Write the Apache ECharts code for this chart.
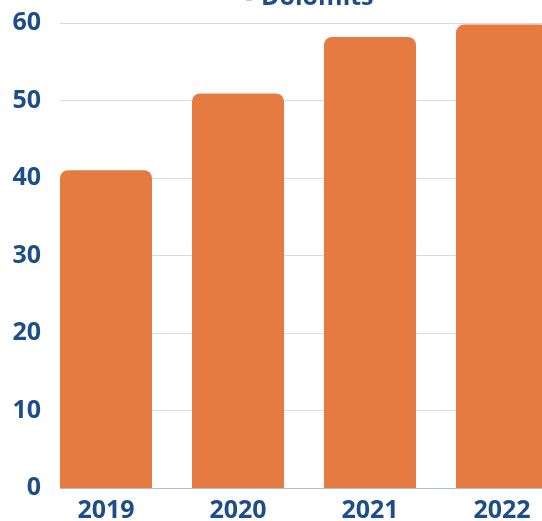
<!DOCTYPE html>
<html>
<head>
<meta charset="utf-8">
<style>
  html, body { margin: 0; padding: 0; background: #fff; overflow: hidden; }
  /* chart is wider than the window: last bar is cut by the right edge */
  #chart { width: 568px; height: 521px; }
</style>
<script src="https://cdn.jsdelivr.net/npm/echarts@6/dist/echarts.min.js"></script>
</head>
<body>
<div id="chart"></div>
<script>
// 数据
const years = ['2019', '2020', '2021', '2022']
const dolomits = [41.0, 50.9, 58.2, 59.8]
const yTicks = [0, 10, 20, 30, 40, 50, 60]

const labelColor = '#1d4e89'
const font = '"Open Sans", sans-serif'

const chart = echarts.init(document.getElementById('chart'))
chart.setOption({
  animation: false,
  legend: {
    data: ['Dolomits'],
    left: 241,
    top: -20,
    icon: 'rect',
    itemWidth: 6,
    itemHeight: 6,
    textStyle: { color: labelColor, fontFamily: font, fontWeight: 'bold', fontSize: 25, padding: [0, 0, 0, 4] }
  },
  // grid 0: bars, grid 1: y axis + gridlines
  grid: [
    { left: 40, right: 0, top: 23, bottom: 33, outerBoundsMode: 'none' },
    { left: 60, right: 26, top: 23, bottom: 33, outerBoundsMode: 'none' }
  ],
  xAxis: [
    {
      gridIndex: 0,
      type: 'category',
      data: years,
      axisLine: { show: false },
      axisTick: { show: false },
      axisLabel: { color: labelColor, fontFamily: font, fontWeight: 'bold', fontSize: 25, margin: 10 }
    },
    {
      gridIndex: 1,
      type: 'category',
      data: years,
      axisLine: { show: true, lineStyle: { color: '#aebed6', width: 1 } },
      axisTick: { show: false },
      axisLabel: { show: false }
    }
  ],
  yAxis: [
    { gridIndex: 0, type: 'value', min: 0, max: 60, interval: 10, show: false },
    {
      gridIndex: 1,
      type: 'value',
      min: yTicks[0],
      max: yTicks[yTicks.length - 1],
      interval: 10,
      axisLine: { show: false },
      axisTick: { show: false },
      axisLabel: { color: labelColor, fontFamily: font, fontWeight: 'bold', fontSize: 25, margin: 19 },
      splitLine: { lineStyle: { color: '#d3dde8', width: 1 } }
    }
  ],
  series: [
    {
      name: 'Dolomits',
      type: 'bar',
      xAxisIndex: 0,
      yAxisIndex: 0,
      data: dolomits,
      barWidth: 92,
      itemStyle: { color: '#e57b40', borderRadius: [8, 8, 0, 0] }
    }
  ]
})
</script>
</body>
</html>
